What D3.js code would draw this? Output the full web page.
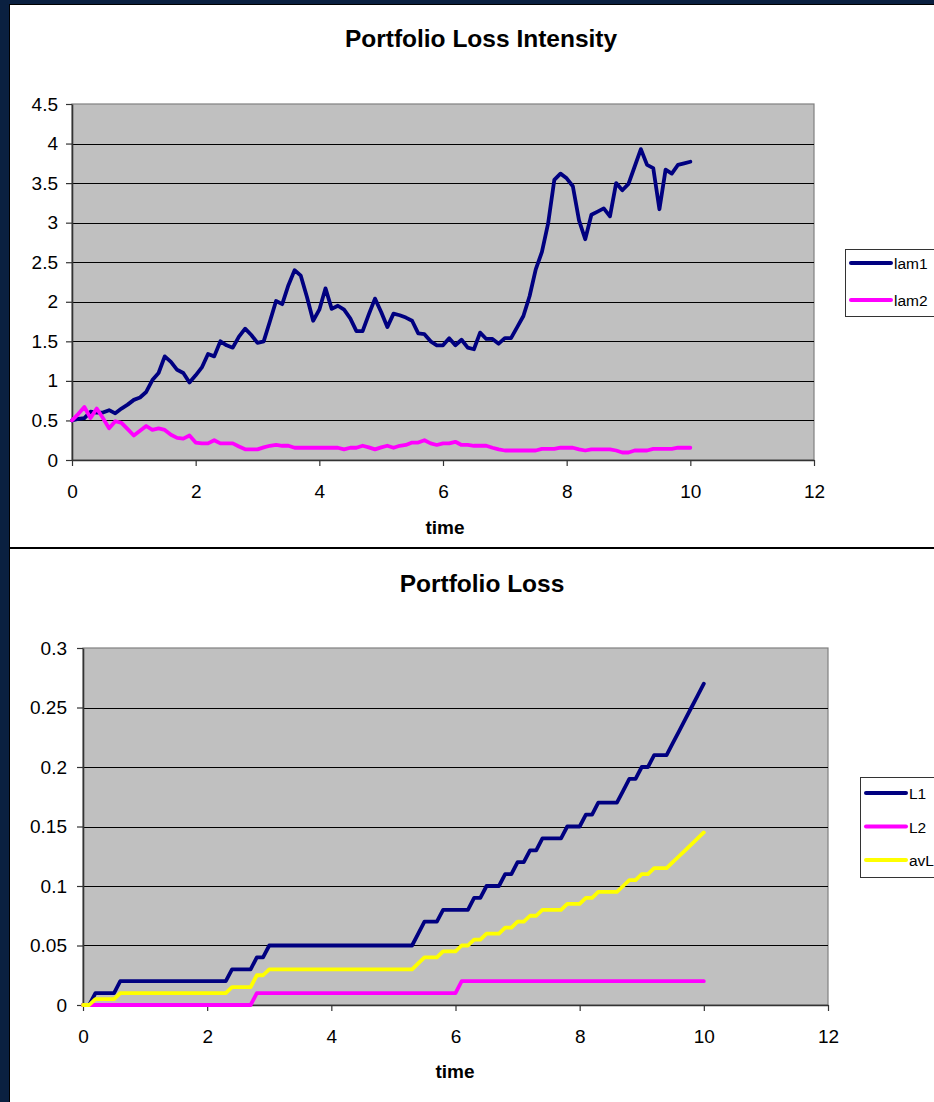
<!DOCTYPE html>
<html>
<head>
<meta charset="utf-8">
<script src="https://cdn.jsdelivr.net/npm/d3@7"></script>
<style>
  html, body { margin: 0; padding: 0; background: #0a2040; }
  svg { display: block; }
  text { font-family: "Liberation Sans", Arial, sans-serif; fill: #000; }
</style>
</head>
<body>
<svg id="chart" width="934" height="1102"></svg>
<script>
// Simulation time grid (years)
const time = [
  0.0,0.1,0.2,0.3,0.4,0.5,0.6,0.7,0.8,0.9,
  1.0,1.1,1.2,1.3,1.4,1.5,1.6,1.7,1.8,1.9,
  2.0,2.1,2.2,2.3,2.4,2.5,2.6,2.7,2.8,2.9,
  3.0,3.1,3.2,3.3,3.4,3.5,3.6,3.7,3.8,3.9,
  4.0,4.1,4.2,4.3,4.4,4.5,4.6,4.7,4.8,4.9,
  5.0,5.1,5.2,5.3,5.4,5.5,5.6,5.7,5.8,5.9,
  6.0,6.1,6.2,6.3,6.4,6.5,6.6,6.7,6.8,6.9,
  7.0,7.1,7.2,7.3,7.4,7.5,7.6,7.7,7.8,7.9,
  8.0,8.1,8.2,8.3,8.4,8.5,8.6,8.7,8.8,8.9,
  9.0,9.1,9.2,9.3,9.4,9.5,9.6,9.7,9.8,9.9,
  10.0
];

// Loss intensities
const lam1 = [
  0.50,0.52,0.53,0.61,0.60,0.60,0.63,0.59,0.65,0.70,
  0.76,0.79,0.86,1.01,1.10,1.31,1.24,1.14,1.10,0.98,
  1.07,1.17,1.34,1.31,1.50,1.45,1.42,1.56,1.66,1.58,
  1.48,1.50,1.75,2.01,1.97,2.21,2.40,2.33,2.06,1.76,
  1.90,2.17,1.91,1.95,1.90,1.79,1.63,1.63,1.84,2.04,
  1.87,1.68,1.85,1.83,1.80,1.76,1.60,1.59,1.50,1.45,
  1.45,1.54,1.45,1.52,1.42,1.40,1.61,1.53,1.53,1.47,
  1.54,1.54,1.68,1.82,2.07,2.41,2.63,2.99,3.54,3.62,
  3.56,3.46,3.03,2.79,3.10,3.14,3.18,3.08,3.50,3.41,
  3.49,3.71,3.93,3.73,3.69,3.17,3.67,3.62,3.73,3.75,
  3.77
];
const lam2 = [
  0.50,0.58,0.67,0.53,0.65,0.53,0.40,0.49,0.47,0.39,
  0.31,0.37,0.43,0.38,0.40,0.38,0.32,0.28,0.27,0.31,
  0.22,0.21,0.21,0.25,0.21,0.21,0.21,0.17,0.135,0.135,
  0.135,0.16,0.18,0.19,0.18,0.18,0.155,0.155,0.155,0.155,
  0.155,0.155,0.155,0.155,0.135,0.155,0.155,0.18,0.16,0.135,
  0.16,0.18,0.155,0.18,0.19,0.22,0.22,0.25,0.21,0.19,
  0.21,0.21,0.23,0.19,0.19,0.18,0.18,0.18,0.155,0.135,
  0.12,0.12,0.12,0.12,0.12,0.12,0.14,0.14,0.14,0.155,
  0.155,0.155,0.135,0.12,0.135,0.135,0.135,0.135,0.12,0.095,
  0.095,0.12,0.12,0.12,0.14,0.14,0.14,0.14,0.155,0.155,
  0.155
];

// Cumulative portfolio losses
const L1 = [
  0,0,0.01,0.01,0.01,0.01,0.02,0.02,0.02,0.02,
  0.02,0.02,0.02,0.02,0.02,0.02,0.02,0.02,0.02,0.02,
  0.02,0.02,0.02,0.02,0.03,0.03,0.03,0.03,0.04,0.04,
  0.05,0.05,0.05,0.05,0.05,0.05,0.05,0.05,0.05,0.05,
  0.05,0.05,0.05,0.05,0.05,0.05,0.05,0.05,0.05,0.05,
  0.05,0.05,0.05,0.05,0.06,0.07,0.07,0.07,0.08,0.08,
  0.08,0.08,0.08,0.09,0.09,0.10,0.10,0.10,0.11,0.11,
  0.12,0.12,0.13,0.13,0.14,0.14,0.14,0.14,0.15,0.15,
  0.15,0.16,0.16,0.17,0.17,0.17,0.17,0.18,0.19,0.19,
  0.20,0.20,0.21,0.21,0.21,0.22,0.23,0.24,0.25,0.26,
  0.27
];
const L2 = [
  0,0,0,0,0,0,0,0,0,0,
  0,0,0,0,0,0,0,0,0,0,
  0,0,0,0,0,0,0,0,0.01,0.01,
  0.01,0.01,0.01,0.01,0.01,0.01,0.01,0.01,0.01,0.01,
  0.01,0.01,0.01,0.01,0.01,0.01,0.01,0.01,0.01,0.01,
  0.01,0.01,0.01,0.01,0.01,0.01,0.01,0.01,0.01,0.01,
  0.01,0.02,0.02,0.02,0.02,0.02,0.02,0.02,0.02,0.02,
  0.02,0.02,0.02,0.02,0.02,0.02,0.02,0.02,0.02,0.02,
  0.02,0.02,0.02,0.02,0.02,0.02,0.02,0.02,0.02,0.02,
  0.02,0.02,0.02,0.02,0.02,0.02,0.02,0.02,0.02,0.02,
  0.02
];
const avL = [
  0,0,0.005,0.005,0.005,0.005,0.01,0.01,0.01,0.01,
  0.01,0.01,0.01,0.01,0.01,0.01,0.01,0.01,0.01,0.01,
  0.01,0.01,0.01,0.01,0.015,0.015,0.015,0.015,0.025,0.025,
  0.03,0.03,0.03,0.03,0.03,0.03,0.03,0.03,0.03,0.03,
  0.03,0.03,0.03,0.03,0.03,0.03,0.03,0.03,0.03,0.03,
  0.03,0.03,0.03,0.03,0.035,0.04,0.04,0.04,0.045,0.045,
  0.045,0.05,0.05,0.055,0.055,0.06,0.06,0.06,0.065,0.065,
  0.07,0.07,0.075,0.075,0.08,0.08,0.08,0.08,0.085,0.085,
  0.085,0.09,0.09,0.095,0.095,0.095,0.095,0.10,0.105,0.105,
  0.11,0.11,0.115,0.115,0.115,0.12,0.125,0.13,0.135,0.14,
  0.145
];

// Axis ticks and labels
const timeTicks = [0, 2, 4, 6, 8, 10, 12];
const timeTickLabels = ["0", "2", "4", "6", "8", "10", "12"];
const intensityTicks = [0, 0.5, 1, 1.5, 2, 2.5, 3, 3.5, 4, 4.5];
const intensityTickLabels = ["0", "0.5", "1", "1.5", "2", "2.5", "3", "3.5", "4", "4.5"];
const lossTicks = [0, 0.05, 0.1, 0.15, 0.2, 0.25, 0.3];
const lossTickLabels = ["0", "0.05", "0.1", "0.15", "0.2", "0.25", "0.3"];

const intensityNames = ["lam1", "lam2"];
const lossNames = ["L1", "L2", "avL"];

const NAVY = "#000080", MAGENTA = "#ff00ff", YELLOW = "#ffff00";
const FONT = '"Liberation Sans", Arial, sans-serif';

const svg = d3.select("#chart");

// Page frame: dark border with two white chart panels
svg.append("rect").attr("x", 0).attr("y", 0).attr("width", 934).attr("height", 1102).attr("fill", "#0a2040");
svg.append("rect").attr("x", 9).attr("y", 4).attr("width", 925).attr("height", 1098).attr("fill", "#000");
svg.append("rect").attr("x", 10).attr("y", 5).attr("width", 924).attr("height", 542).attr("fill", "#fff");
svg.append("rect").attr("x", 10).attr("y", 549).attr("width", 924).attr("height", 553).attr("fill", "#fff");

function drawPanel(cfg) {
  const g = svg.append("g");
  const x = d3.scaleLinear().domain([0, 12]).range(cfg.xRange);
  const y = d3.scaleLinear().domain(cfg.yDomain).range(cfg.yRange);
  const [x0, x1] = cfg.xRange;
  const [yb, yt] = cfg.yRange;

  // plot area
  g.append("rect")
    .attr("x", x0).attr("y", yt).attr("width", x1 - x0).attr("height", yb - yt)
    .attr("fill", "#c0c0c0").attr("stroke", "#808080").attr("stroke-width", 1.2);

  // horizontal gridlines
  g.append("g").selectAll("line")
    .data(cfg.yTicks.filter((d, i) => i > 0 && i < cfg.yTicks.length - 1))
    .join("line")
    .attr("x1", x0).attr("x2", x1)
    .attr("y1", d => Math.round(y(d)) + 0.5).attr("y2", d => Math.round(y(d)) + 0.5)
    .attr("stroke", "#000").attr("stroke-width", 1);

  // y axis
  const yAxis = d3.axisLeft(y)
    .tickValues(cfg.yTicks)
    .tickFormat((d, i) => cfg.yLabels[i])
    .tickSize(6).tickSizeOuter(0).tickPadding(cfg.yPad);
  const ya = g.append("g").attr("transform", `translate(${x0},0)`).call(yAxis);
  ya.select(".domain").attr("stroke", "#333").attr("stroke-width", 1.6);
  ya.selectAll(".tick line").attr("stroke", "#333").attr("stroke-width", 1.2);
  ya.selectAll(".tick text").attr("font-size", cfg.tickFont).attr("fill", "#000")
    .style("font-family", FONT);

  // x axis
  const xAxis = d3.axisBottom(x)
    .tickValues(timeTicks)
    .tickFormat((d, i) => timeTickLabels[i])
    .tickSize(6).tickSizeOuter(0).tickPadding(19);
  const xa = g.append("g").attr("transform", `translate(0,${yb})`).call(xAxis);
  xa.select(".domain").attr("stroke", "#333").attr("stroke-width", 1.6);
  xa.selectAll(".tick line").attr("stroke", "#333").attr("stroke-width", 1.2);
  xa.selectAll(".tick text").attr("font-size", cfg.tickFont).attr("fill", "#000")
    .style("font-family", FONT);

  // series
  const line = d3.line().x((d, i) => x(time[i])).y(d => y(d));
  g.append("g")
    .selectAll("path").data(cfg.series).join("path")
    .attr("d", s => line(s.values))
    .attr("fill", "none")
    .attr("stroke", s => s.color)
    .attr("stroke-width", 3.8)
    .attr("stroke-linejoin", "round")
    .attr("stroke-linecap", "round");

  // title and axis label
  g.append("text").attr("x", cfg.titleX).attr("y", cfg.titleY)
    .attr("text-anchor", "middle").attr("font-weight", "bold").attr("font-size", 24.5)
    .text(cfg.title);
  g.append("text").attr("x", cfg.xLabelX).attr("y", cfg.xLabelY)
    .attr("text-anchor", "middle").attr("font-weight", "bold").attr("font-size", 19)
    .text("time");

  // legend
  const lg = g.append("g").attr("transform", `translate(${cfg.legend.x},${cfg.legend.y})`);
  lg.append("rect").attr("x", 0.5).attr("y", 0.5)
    .attr("width", 200).attr("height", cfg.legend.h)
    .attr("fill", "#fff").attr("stroke", "#333").attr("stroke-width", 1);
  const items = lg.selectAll("g.item").data(cfg.series).join("g")
    .attr("class", "item")
    .attr("transform", (d, i) => `translate(0,${cfg.legend.first + i * cfg.legend.step})`);
  items.append("line").attr("x1", 6).attr("x2", 46).attr("y1", 0).attr("y2", 0)
    .attr("stroke", d => d.color).attr("stroke-width", 4).attr("stroke-linecap", "round");
  items.append("text").attr("x", 49).attr("y", 6).attr("font-size", 15.5).text(d => d.name);
}

drawPanel({
  title: "Portfolio Loss Intensity",
  titleX: 481, titleY: 47,
  xLabelX: 445, xLabelY: 534,
  xRange: [72, 814],
  yDomain: [0, 4.5], yRange: [460, 104],
  yTicks: intensityTicks, yLabels: intensityTickLabels, yPad: 8,
  tickFont: 19,
  series: [
    { name: intensityNames[0], values: lam1, color: NAVY },
    { name: intensityNames[1], values: lam2, color: MAGENTA }
  ],
  legend: { x: 845, y: 249, h: 67, first: 14, step: 37 }
});

drawPanel({
  title: "Portfolio Loss",
  titleX: 482, titleY: 592,
  xLabelX: 455, xLabelY: 1078,
  xRange: [83, 828],
  yDomain: [0, 0.3], yRange: [1005, 648],
  yTicks: lossTicks, yLabels: lossTickLabels, yPad: 10,
  tickFont: 19,
  series: [
    { name: lossNames[0], values: L1, color: NAVY },
    { name: lossNames[1], values: L2, color: MAGENTA },
    { name: lossNames[2], values: avL, color: YELLOW }
  ],
  legend: { x: 860, y: 777, h: 100, first: 16, step: 33.5 }
});
</script>
</body>
</html>
